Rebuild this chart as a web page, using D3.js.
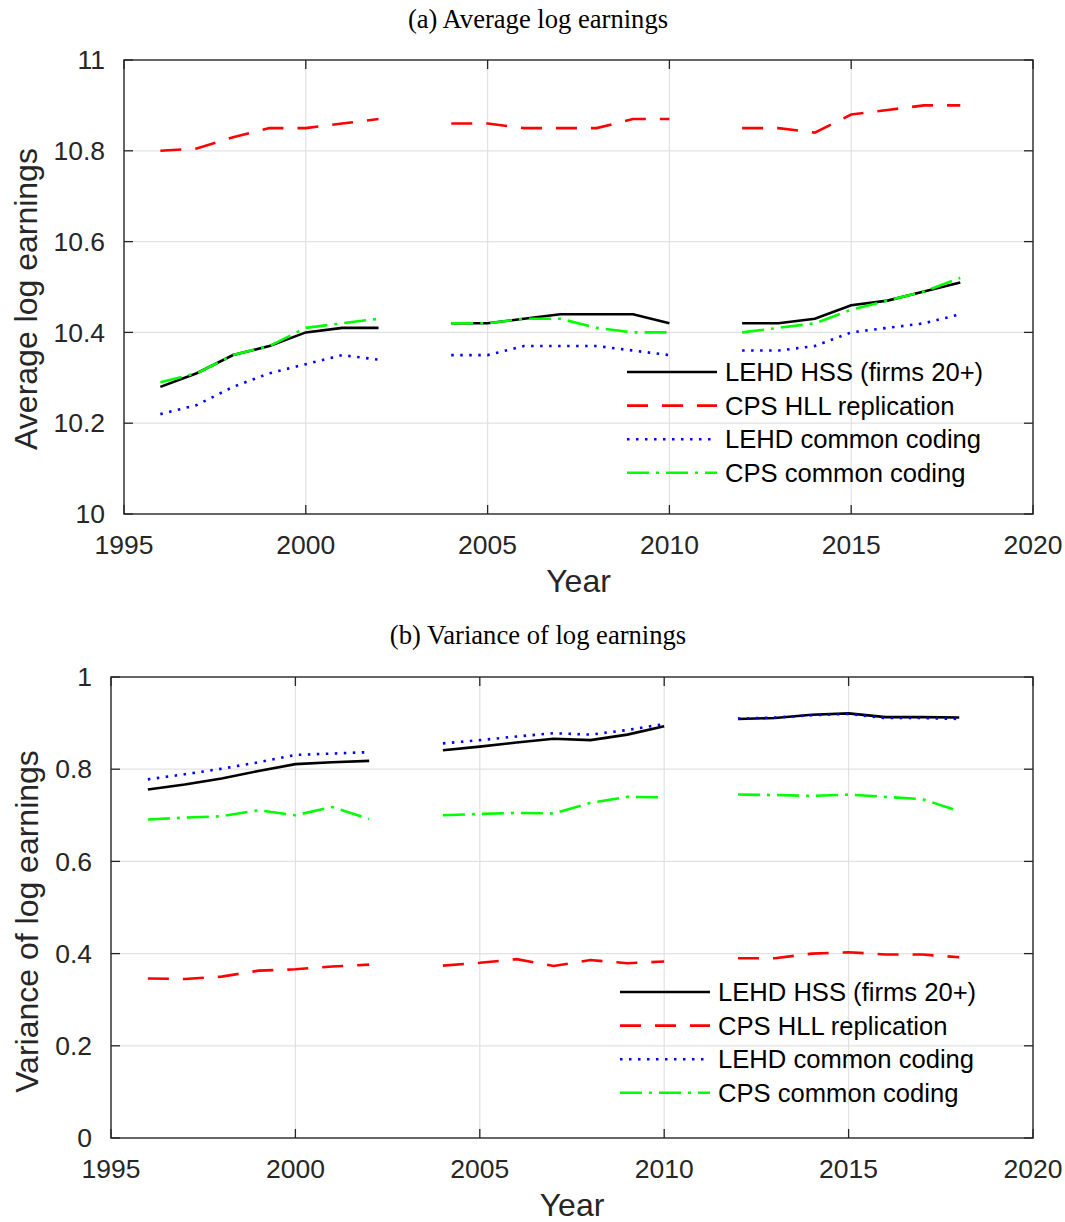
<!DOCTYPE html>
<html lang="en">
<head>
<meta charset="utf-8">
<title>Log earnings</title>
<script src="https://cdn.jsdelivr.net/npm/d3@7"></script>
<style>
	body {
		margin: 0;
		padding: 0;
		background: #fff;
	}
	.tick-label {
		font-family: "Liberation Sans", Arial, Helvetica, sans-serif;
		font-size: 26.5px;
		fill: #262626;
	}
	.axis-label {
		font-family: "Liberation Sans", Arial, Helvetica, sans-serif;
		font-size: 32px;
		fill: #262626;
	}
	.legend-label {
		font-family: "Liberation Sans", Arial, Helvetica, sans-serif;
		font-size: 25.6px;
		fill: #000;
	}
	.panel-title {
		font-family: "Liberation Serif", "Times New Roman", Times, serif;
		font-size: 26.6px;
		fill: #000;
	}
</style>
</head>
<body>
<div id="chart"></div>
<script>

	// Data (null = gap year)
	var years = [1996, 1997, 1998, 1999, 2000, 2001, 2002, 2003, 2004, 2005, 2006, 2007,
		2008, 2009, 2010, 2011, 2012, 2013, 2014, 2015, 2016, 2017, 2018];

	var seriesNames = ["LEHD HSS (firms 20+)", "CPS HLL replication", "LEHD common coding", "CPS common coding"];

	// (a) average log earnings
	var avgLehdHss = [10.28, 10.31, 10.35, 10.37, 10.40, 10.41, 10.41, null, 10.42, 10.42, 10.43, 10.44,
		10.44, 10.44, 10.42, null, 10.42, 10.42, 10.43, 10.46, 10.47, 10.49, 10.51];
	var avgCpsHll = [10.80, 10.805, 10.83, 10.85, 10.85, 10.86, 10.87, null, 10.86, 10.86, 10.85, 10.85,
		10.85, 10.87, 10.87, null, 10.85, 10.85, 10.84, 10.88, 10.89, 10.90, 10.90];
	var avgLehdCommon = [10.22, 10.24, 10.28, 10.31, 10.33, 10.35, 10.34, null, 10.35, 10.35, 10.37, 10.37,
		10.37, 10.36, 10.35, null, 10.36, 10.36, 10.37, 10.40, 10.41, 10.42, 10.44];
	var avgCpsCommon = [10.29, 10.31, 10.35, 10.37, 10.41, 10.42, 10.43, null, 10.42, 10.42, 10.43, 10.43,
		10.41, 10.40, 10.40, null, 10.40, 10.41, 10.42, 10.45, 10.47, 10.49, 10.52];

	// (b) variance of log earnings
	var varLehdHss = [0.756, 0.767, 0.780, 0.796, 0.811, 0.815, 0.818, null, 0.841, 0.849, 0.858, 0.866,
		0.863, 0.875, 0.893, null, 0.909, 0.911, 0.918, 0.921, 0.913, 0.913, 0.912];
	var varCpsHll = [0.346, 0.345, 0.350, 0.363, 0.366, 0.372, 0.376, null, 0.374, 0.380, 0.388, 0.373,
		0.386, 0.379, 0.383, null, 0.390, 0.390, 0.400, 0.403, 0.398, 0.398, 0.392];
	var varLehdCommon = [0.778, 0.789, 0.801, 0.815, 0.831, 0.834, 0.837, null, 0.856, 0.863, 0.871, 0.878,
		0.875, 0.885, 0.898, null, 0.910, 0.912, 0.917, 0.920, 0.911, 0.911, 0.909];
	var varCpsCommon = [0.691, 0.695, 0.698, 0.711, 0.700, 0.718, 0.692, null, 0.700, 0.703, 0.705, 0.704,
		0.727, 0.740, 0.739, null, 0.745, 0.744, 0.742, 0.745, 0.740, 0.735, 0.709];

	var xTicks = [1995, 2000, 2005, 2010, 2015, 2020];
	var yTicksA = [10, 10.2, 10.4, 10.6, 10.8, 11];
	var yTicksB = [0, 0.2, 0.4, 0.6, 0.8, 1];

	// Styles
	var seriesStyles = [
		{ color: "#000000", dash: null },
		{ color: "#ff0000", dash: "21,14" },
		{ color: "#0000ff", dash: "2.5,6.5" },
		{ color: "#00ff00", dash: "22,7,3,7" }
	];

	var svg = d3.select("#chart").append("svg")
		.attr("width", 1065)
		.attr("height", 1222);

	var panels = [
		{
			title: "(a) Average log earnings", titleY: 28,
			yLabel: "Average log earnings", yLabelX: 26, yLabelShift: 12,
			left: 124, right: 1033, top: 60, bottom: 514,
			yDomain: [10, 11], yTicks: yTicksA,
			series: [avgLehdHss, avgCpsHll, avgLehdCommon, avgCpsCommon],
			legendX: 627, legendY: 372
		},
		{
			title: "(b) Variance of log earnings", titleY: 644,
			yLabel: "Variance of log earnings", yLabelX: 27, yLabelShift: 14,
			left: 111, right: 1033, top: 677, bottom: 1138,
			yDomain: [0, 1], yTicks: yTicksB,
			series: [varLehdHss, varCpsHll, varLehdCommon, varCpsCommon],
			legendX: 620, legendY: 992
		}
	];

	panels.forEach(drawPanel);

	function drawPanel(p) {
		var x = d3.scaleLinear().domain([1995, 2020]).range([p.left, p.right]);
		var y = d3.scaleLinear().domain(p.yDomain).range([p.bottom, p.top]);
		var g = svg.append("g");
		var tickLen = 9;

		// title
		g.append("text")
			.attr("class", "panel-title")
			.attr("x", 538)
			.attr("y", p.titleY)
			.attr("text-anchor", "middle")
			.text(p.title);

		// grid
		g.selectAll("line.gx").data(xTicks.slice(1, -1)).enter().append("line")
			.attr("x1", function (d) { return x(d); }).attr("x2", function (d) { return x(d); })
			.attr("y1", p.top).attr("y2", p.bottom)
			.attr("stroke", "#e2e2e2").attr("stroke-width", 1.2);
		g.selectAll("line.gy").data(p.yTicks.slice(1, -1)).enter().append("line")
			.attr("y1", function (d) { return y(d); }).attr("y2", function (d) { return y(d); })
			.attr("x1", p.left).attr("x2", p.right)
			.attr("stroke", "#e2e2e2").attr("stroke-width", 1.2);

		// ticks (inward, all four sides)
		xTicks.forEach(function (t) {
			g.append("line").attr("x1", x(t)).attr("x2", x(t))
				.attr("y1", p.bottom).attr("y2", p.bottom - tickLen)
				.attr("stroke", "#262626").attr("stroke-width", 1.3);
			g.append("line").attr("x1", x(t)).attr("x2", x(t))
				.attr("y1", p.top).attr("y2", p.top + tickLen)
				.attr("stroke", "#262626").attr("stroke-width", 1.3);
		});
		p.yTicks.forEach(function (t) {
			g.append("line").attr("x1", p.left).attr("x2", p.left + tickLen)
				.attr("y1", y(t)).attr("y2", y(t))
				.attr("stroke", "#262626").attr("stroke-width", 1.3);
			g.append("line").attr("x1", p.right).attr("x2", p.right - tickLen)
				.attr("y1", y(t)).attr("y2", y(t))
				.attr("stroke", "#262626").attr("stroke-width", 1.3);
		});

		// tick labels
		g.selectAll("text.xt").data(xTicks).enter().append("text")
			.attr("class", "tick-label")
			.attr("x", function (d) { return x(d); })
			.attr("y", p.bottom + 40)
			.attr("text-anchor", "middle")
			.text(function (d) { return d; });
		g.selectAll("text.yt").data(p.yTicks).enter().append("text")
			.attr("class", "tick-label")
			.attr("x", p.left - 19)
			.attr("y", function (d) { return y(d); })
			.attr("dy", "0.35em")
			.attr("text-anchor", "end")
			.text(function (d) { return d; });

		// axis labels
		g.append("text")
			.attr("class", "axis-label")
			.attr("x", (p.left + p.right) / 2)
			.attr("y", p.bottom + 78)
			.attr("text-anchor", "middle")
			.text("Year");
		g.append("text")
			.attr("class", "axis-label")
			.attr("transform", "translate(" + (p.yLabelX + 11) + "," + ((p.top + p.bottom) / 2 + p.yLabelShift) + ") rotate(-90)")
			.attr("text-anchor", "middle")
			.text(p.yLabel);

		// series lines
		var line = d3.line()
			.defined(function (d) { return d.v !== null; })
			.x(function (d) { return x(d.year); })
			.y(function (d) { return y(d.v); });

		p.series.forEach(function (vals, i) {
			var pts = years.map(function (yr, j) { return { year: yr, v: vals[j] }; });
			g.append("path")
				.datum(pts)
				.attr("d", line)
				.attr("fill", "none")
				.attr("stroke", seriesStyles[i].color)
				.attr("stroke-width", 2.6)
				.attr("stroke-dasharray", seriesStyles[i].dash);
		});

		// box
		g.append("rect")
			.attr("x", p.left).attr("y", p.top)
			.attr("width", p.right - p.left).attr("height", p.bottom - p.top)
			.attr("fill", "none")
			.attr("stroke", "#262626").attr("stroke-width", 1.4);

		// legend
		var leg = g.selectAll("g.legend").data(seriesNames).enter().append("g")
			.attr("transform", function (d, i) { return "translate(" + p.legendX + "," + (p.legendY + i * 33.6) + ")"; });
		leg.append("line")
			.attr("x1", 0).attr("x2", 90).attr("y1", 0).attr("y2", 0)
			.attr("stroke", function (d, i) { return seriesStyles[i].color; })
			.attr("stroke-width", 2.6)
			.attr("stroke-dasharray", function (d, i) { return seriesStyles[i].dash; });
		leg.append("text")
			.attr("class", "legend-label")
			.attr("x", 98)
			.attr("y", 0)
			.attr("dy", "0.35em")
			.text(function (d) { return d; });
	}

</script>
</body>
</html>
